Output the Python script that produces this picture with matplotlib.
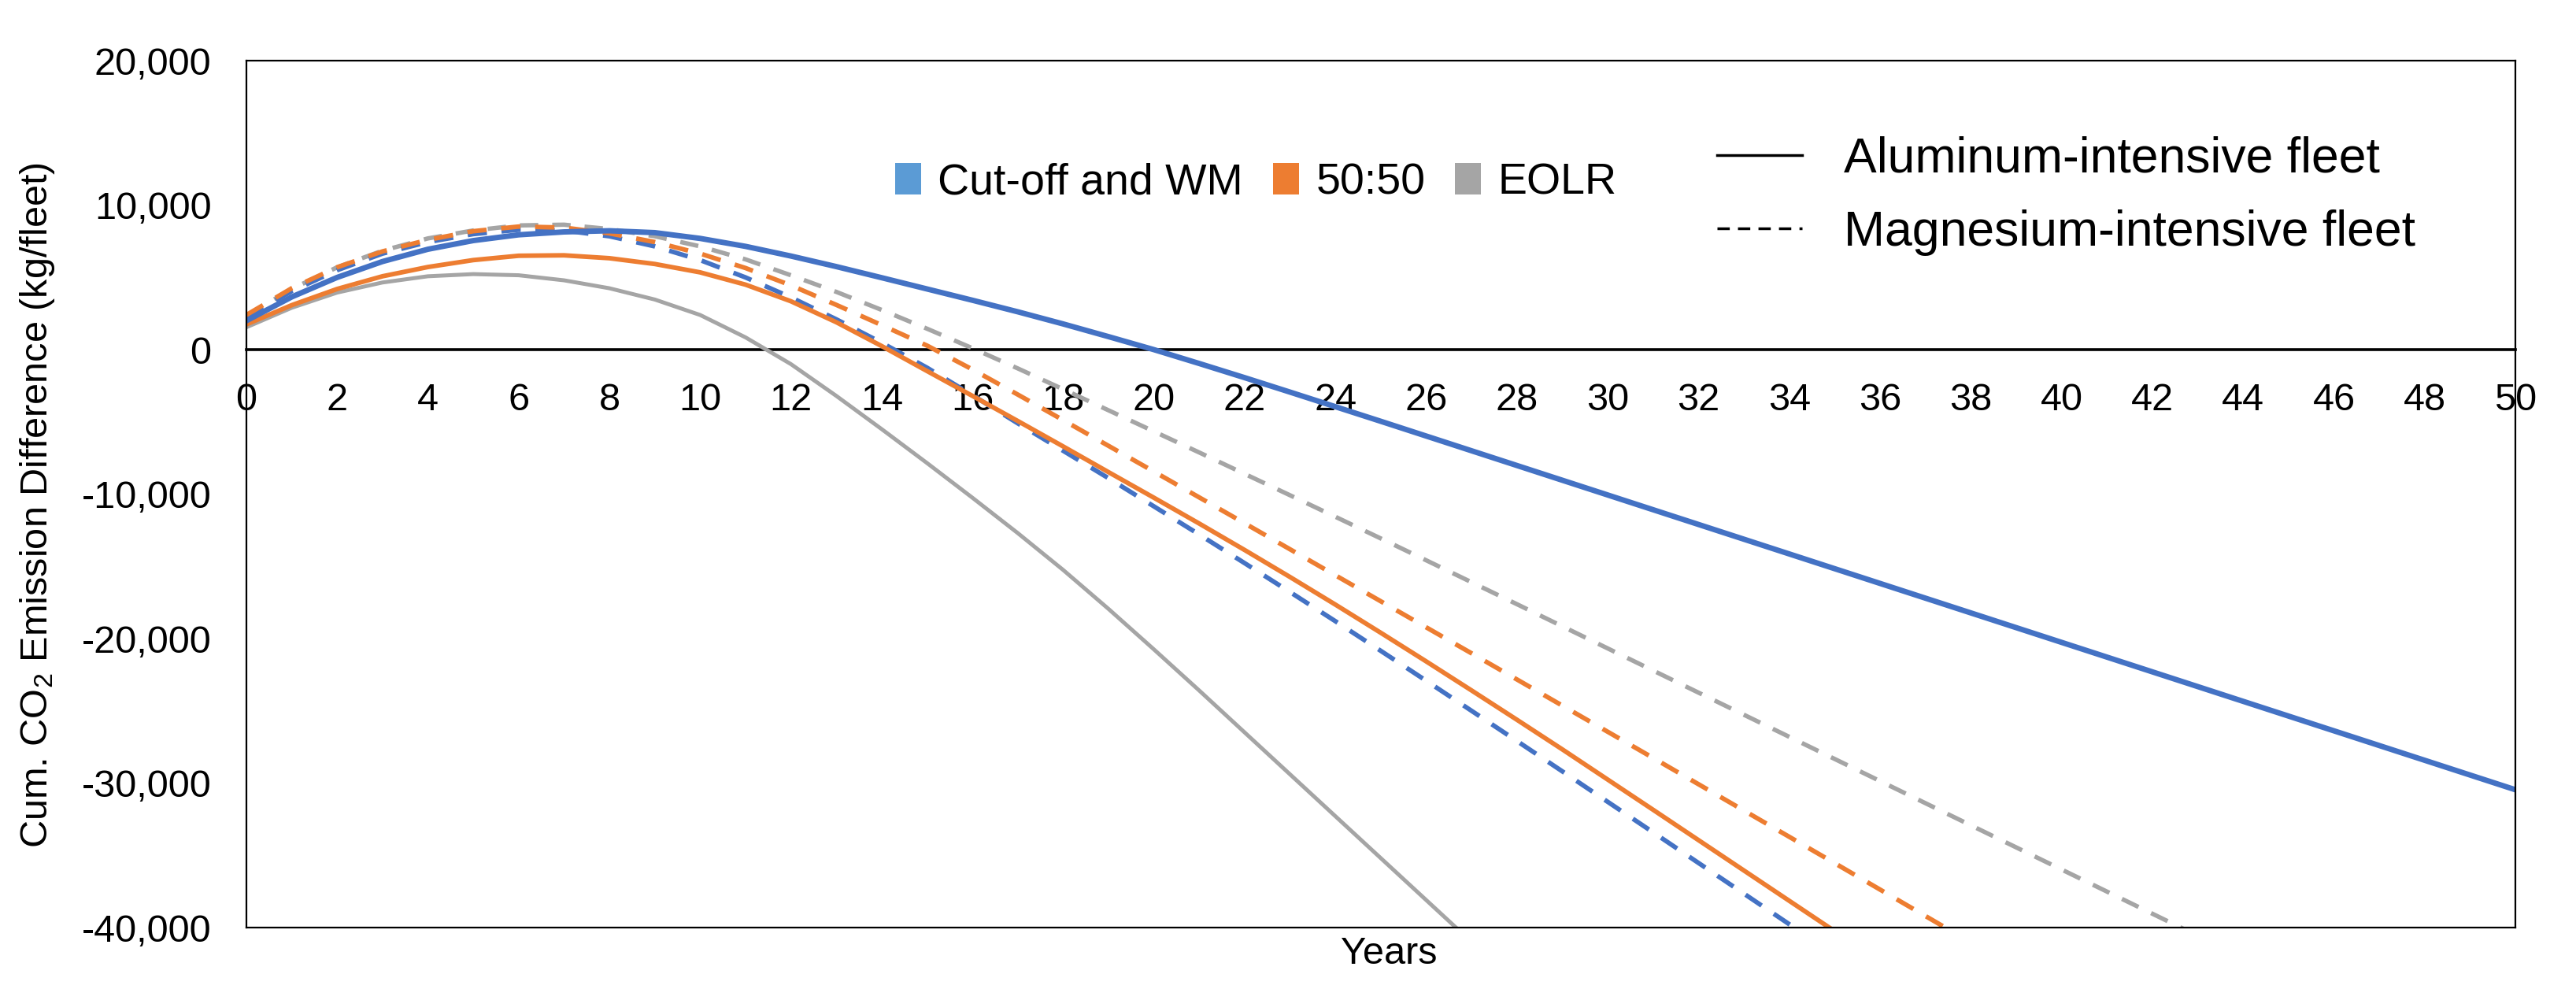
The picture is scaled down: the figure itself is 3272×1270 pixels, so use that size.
import matplotlib
matplotlib.use("Agg")
import matplotlib.pyplot as plt
from matplotlib.lines import Line2D
from matplotlib.patches import Patch
from matplotlib.ticker import FuncFormatter

plt.rcParams["font.family"] = ["Liberation Sans", "DejaVu Sans"]
plt.rcParams["mathtext.fontset"] = "custom"
plt.rcParams["mathtext.rm"] = "Liberation Sans"
plt.rcParams["mathtext.it"] = "Liberation Sans:italic"

# Years since introduction of the fleet
YEARS = list(range(0, 51))

# Cumulative CO2 emission difference (kg/fleet).
# Each list starts at year 0; lists stop once the curve leaves the plot.
al_cutoff = [2000, 3650, 5000, 6100, 6950, 7550, 7950, 8150, 8230, 8100,
             7700, 7150, 6480, 5750, 4980, 4200, 3420, 2620, 1780, 900,
             0, -960, -1940, -2940, -3950, -4960, -5980, -7000, -8020, -9040,
             -10060, -11080, -12100, -13120, -14140, -15160, -16180, -17200, -18220, -19240,
             -20260, -21280, -22300, -23320, -24340, -25360, -26380, -27400, -28420, -29440,
             -30460]
al_5050 = [1750, 3080, 4200, 5080, 5720, 6200, 6500, 6530, 6330, 5930,
           5350, 4500, 3350, 1900, 250, -1480, -3200, -4940, -6700, -8480,
           -10250, -12040, -13870, -15740, -17650, -19600, -21580, -23590, -25620, -27670,
           -29760, -31850, -33950, -36050, -38150, -40250]
al_eolr = [1550, 2900, 3950, 4650, 5080, 5230, 5150, 4800, 4250, 3470,
           2400, 850, -1000, -3200, -5500, -7850, -10250, -12700, -15250, -17950,
           -20750, -23600, -26500, -29400, -32300, -35200, -38100, -41000]
mg_cutoff = [2250, 4050, 5500, 6650, 7450, 8000, 8300, 8250, 7850, 7150,
             6200, 5000, 3620, 2100, 480, -1250, -3150, -5100, -7000, -8900,
             -10850, -12800, -14780, -16780, -18800, -20850, -22920, -25000, -27090, -29190,
             -31300, -33410, -35530, -37650, -39770, -41900]
mg_5050 = [2400, 4250, 5700, 6800, 7600, 8200, 8520, 8450, 8050, 7450,
           6650, 5650, 4450, 3100, 1700, 280, -1370, -3110, -4880, -6660,
           -8440, -10230, -12020, -13820, -15620, -17420, -19220, -21020, -22830, -24640,
           -26450, -28260, -30080, -31900, -33720, -35540, -37370, -39200, -41030]
mg_eolr = [2350, 4200, 5700, 6850, 7700, 8250, 8600, 8650, 8350, 7850,
           7150, 6250, 5150, 4000, 2750, 1450, 100, -1300, -2740, -4200,
           -5660, -7120, -8600, -10080, -11570, -13070, -14580, -16100, -17620, -19150,
           -20680, -22210, -23740, -25270, -26800, -28330, -29860, -31390, -32920, -34450,
           -35980, -37510, -39040, -40570]

scenario_labels = ["Cut-off and WM", "50:50", "EOLR"]
fleet_labels = ["Aluminum-intensive fleet", "Magnesium-intensive fleet"]

BLUE = "#4472C4"
ORANGE = "#ED7D31"
GRAY = "#A5A5A5"
DASH = (0, (4.2, 3.2))

fig = plt.figure(figsize=(32.73, 12.70), dpi=100)
ax = fig.add_axes([0.0956, 0.0724, 0.8806, 0.8669])

# magnesium (dashed) first, aluminum (solid) on top
ax.plot(YEARS[:len(mg_eolr)], mg_eolr, color=GRAY, lw=4.0, linestyle=DASH)
ax.plot(YEARS[:len(mg_cutoff)], mg_cutoff, color=BLUE, lw=4.2, linestyle=DASH)
ax.plot(YEARS[:len(mg_5050)], mg_5050, color=ORANGE, lw=4.2, linestyle=DASH)
ax.plot(YEARS[:len(al_eolr)], al_eolr, color=GRAY, lw=3.6)
ax.plot(YEARS[:len(al_5050)], al_5050, color=ORANGE, lw=4.2)
ax.plot(YEARS[:len(al_cutoff)], al_cutoff, color=BLUE, lw=5.0)

ax.set_xlim(0, 50)
ax.set_ylim(-40000, 20000)
ax.set_xticks(range(0, 51, 2))
ax.set_yticks(range(-40000, 20001, 10000))
ax.yaxis.set_major_formatter(FuncFormatter(lambda v, p: f"{v:,.0f}"))

# x axis crosses at zero, like the Excel original
ax.spines["bottom"].set_position(("data", 0))
ax.spines["bottom"].set_linewidth(2.6)
ax.spines["bottom"].set_zorder(1.5)
for s in ["left", "right", "top"]:
    ax.spines[s].set_linewidth(1.6)
ax.plot([0, 1], [0, 0], transform=ax.transAxes, color="black", lw=1.6, clip_on=False)
ax.tick_params(axis="x", length=0, pad=30, labelsize=35)
ax.tick_params(axis="y", length=0, pad=32, labelsize=35)

fig.text(0.0144, 0.495, "Cum. CO$_2$ Emission Difference (kg/fleet)",
         rotation=90, fontsize=35, ha="center", va="center")
fig.text(0.539, 0.0457, "Years", fontsize=35, ha="center", va="center")

# legends
h1 = [Patch(facecolor=c, edgecolor="none") for c in ["#5B9BD5", ORANGE, GRAY]]
leg1 = ax.legend(h1, scenario_labels, loc="center left",
                 bbox_to_anchor=(0.3474, 0.817), bbox_transform=fig.transFigure,
                 ncol=3, frameon=False, fontsize=40, handlelength=0.6,
                 handleheight=0.72, handletextpad=0.38, columnspacing=0.68,
                 borderpad=0, borderaxespad=0)
ax.add_artist(leg1)

h2 = [Line2D([], [], color="black", lw=2.5),
      Line2D([], [], color="black", lw=2.5, linestyle=(0, (4.5, 3)))]
ax.legend(h2, fleet_labels, loc="center left",
          bbox_to_anchor=(0.6664, 0.804), bbox_transform=fig.transFigure,
          frameon=False, fontsize=45, handlelength=1.73, handletextpad=0.85,
          labelspacing=0.55, borderpad=0, borderaxespad=0)

fig.savefig("out.png", dpi=100)
